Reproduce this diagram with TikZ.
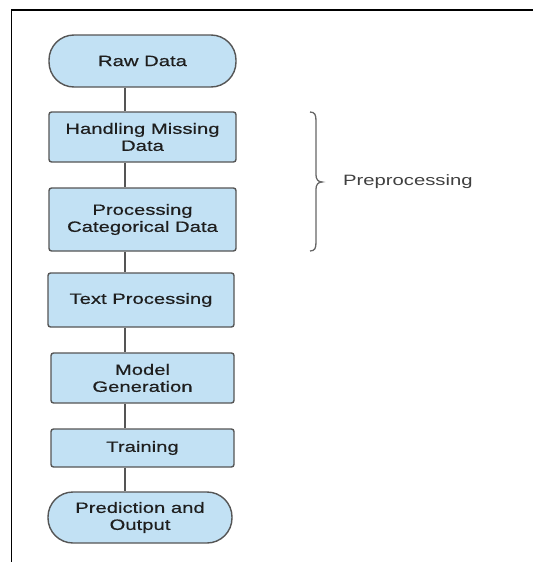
\documentclass[tikz,border=0pt]{standalone}
\usepackage{fontspec}
\setmainfont{Liberation Sans}
\newfontfamily\wfont[FakeStretch=1.35,FakeBold=0.5]{Liberation Sans}
\newfontfamily\lfont[FakeStretch=1.35]{Liberation Sans}
\usetikzlibrary{calc}
\definecolor{boxfill}{HTML}{C2E1F4}
\definecolor{boxdraw}{HTML}{555555}
\definecolor{txt}{HTML}{1E1E1E}
\tikzset{
  stepbox/.style={draw=boxdraw, line width=1.4pt, fill=boxfill, rounded corners=2.5pt,
    align=center, text=txt, inner sep=0pt,
    font=\wfont\fontsize{15pt}{17pt}\selectfont},
  termbox/.style={stepbox, rounded corners=25pt},
  link/.style={draw=boxdraw, line width=1.4pt},
}
\begin{document}
\begin{tikzpicture}[x=1pt,y=-1pt]
\useasboundingbox (0,0) rectangle (533,562);
% frame (top and left)
\draw[line width=1.8pt] (11.5,562) -- (11.5,10) -- (533,10);
\coordinate (axis) at (125,0);
\node[termbox, minimum width=187pt, minimum height=52pt] (raw) at (142.5,61) {Raw Data};
\node[stepbox, minimum width=187pt, minimum height=50pt] (hmd) at (142.5,137) {Handling Missing\\Data};
\node[stepbox, minimum width=187pt, minimum height=63pt] (pcd) at (142.5,219.5) {Processing\\Categorical Data};
\node[stepbox, minimum width=186pt, minimum height=54pt] (tp) at (141,300) {Text Processing};
\node[stepbox, minimum width=183pt, minimum height=50pt] (mg) at (142.5,378) {Model\\Generation};
\node[stepbox, minimum width=183pt, minimum height=38pt] (tr) at (142.5,448) {Training};
\node[termbox, minimum width=184pt, minimum height=51pt] (po) at (140,517.5) {Prediction and\\Output};
\draw[link] (raw.south -| axis) -- (hmd.north -| axis);
\draw[link] (hmd.south -| axis) -- (pcd.north -| axis);
\draw[link] (pcd.south -| axis) -- (tp.north -| axis);
\draw[link] (tp.south -| axis) -- (mg.north -| axis);
\draw[link] (mg.south -| axis) -- (tr.north -| axis);
\draw[link] (tr.south -| axis) -- (po.north -| axis);
% brace
\draw[draw=boxdraw!90, line width=1.3pt]
  (310,112) .. controls (315,112) and (316,115) .. (316,121) -- (316,175)
  .. controls (316,179) and (318,182) .. (322,182)
  .. controls (318,182) and (316,185) .. (316,189) -- (316,242)
  .. controls (316,248) and (315,251) .. (310,251);
\node[anchor=west, text=txt!85, inner sep=0pt, font=\lfont\fontsize{15pt}{17pt}\selectfont] (lbl) at (343,182) {Preprocessing};
\end{tikzpicture}
\end{document}
